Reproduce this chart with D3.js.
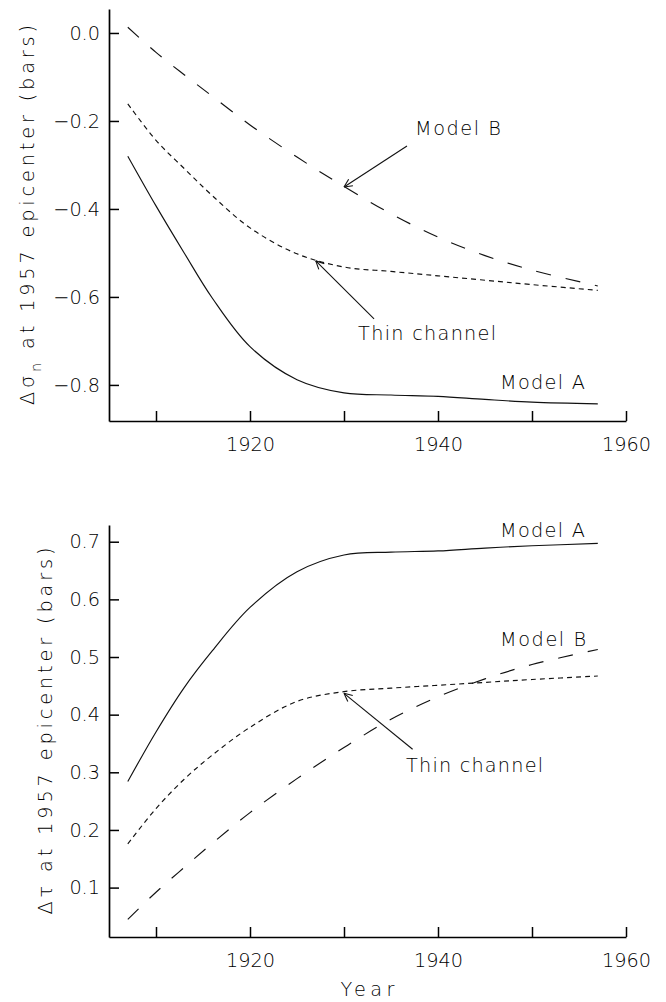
<!DOCTYPE html>
<html>
<head>
<meta charset="utf-8">
<script src="https://cdn.jsdelivr.net/npm/d3@7"></script>
<style>
  body { margin: 0; background: #fff; }
  svg text { font-family: "DejaVu Sans", sans-serif; font-weight: 200; fill: #000; }
</style>
</head>
<body>
<script>
// values
var years = [1907, 1910, 1913, 1916, 1920, 1925, 1930, 1935, 1940, 1945, 1950, 1957];

var sigmaModelA = [-0.280, -0.393, -0.500, -0.603, -0.713, -0.788, -0.818, -0.823, -0.826, -0.833, -0.839, -0.843];
var sigmaThin   = [-0.161, -0.244, -0.308, -0.370, -0.443, -0.502, -0.532, -0.542, -0.552, -0.562, -0.572, -0.585];
var sigmaModelB = [ 0.013, -0.044, -0.095, -0.144, -0.209, -0.282, -0.349, -0.411, -0.464, -0.506, -0.539, -0.575];

var tauModelA = [0.284, 0.370, 0.447, 0.511, 0.586, 0.648, 0.677, 0.682, 0.684, 0.689, 0.693, 0.697];
var tauThin   = [0.176, 0.237, 0.288, 0.330, 0.378, 0.423, 0.440, 0.446, 0.451, 0.456, 0.461, 0.467];
var tauModelB = [0.045, 0.092, 0.135, 0.177, 0.230, 0.289, 0.343, 0.392, 0.431, 0.462, 0.487, 0.513];

var xTicks = [1910, 1920, 1930, 1940, 1950, 1960];
var sigmaTicks = [-0.8, -0.6, -0.4, -0.2, 0.0];
var tauTicks = [0.1, 0.2, 0.3, 0.4, 0.5, 0.6, 0.7];

var width = 666, height = 1002;

var svg = d3.select("body").append("svg")
    .attr("width", width)
    .attr("height", height);

// size the font so that a year label is as wide as in the figure
var probe = svg.append("text").attr("font-size", 20).text("1920");
var fontSize = 20 * 49 / probe.node().getComputedTextLength();
probe.remove();

var x = d3.scaleLinear().domain([1905, 1960]).range([109, 626]);

function arrow(g, from, to) {
    g.append("line")
        .attr("x1", from[0]).attr("y1", from[1])
        .attr("x2", to[0]).attr("y2", to[1])
        .attr("stroke", "#111").attr("stroke-width", 1.1);
    var ang = Math.atan2(from[1] - to[1], from[0] - to[0]);
    var len = 9, spread = 0.45;
    [ang - spread, ang + spread].forEach(function(a) {
        g.append("line")
            .attr("x1", to[0]).attr("y1", to[1])
            .attr("x2", to[0] + len * Math.cos(a))
            .attr("y2", to[1] + len * Math.sin(a))
            .attr("stroke", "#111").attr("stroke-width", 1.1);
    });
}

function drawPanel(cfg) {
    var g = svg.append("g");
    var y = d3.scaleLinear().domain(cfg.yDomain).range([cfg.bottom, cfg.top]);

    // axes
    var xAxis = g.append("g")
        .attr("transform", "translate(0," + cfg.bottom + ")")
        .call(d3.axisBottom(x)
            .tickValues(xTicks)
            .tickSize(-10)
            .tickSizeOuter(0)
            .tickPadding(16)
            .tickFormat(function(d) { return d % 20 === 0 ? d : ""; }));

    var yAxis = g.append("g")
        .attr("transform", "translate(" + x.range()[0] + ",0)")
        .call(d3.axisLeft(y)
            .tickValues(cfg.ticks)
            .tickSize(-10)
            .tickSizeOuter(0)
            .tickPadding(9)
            .tickFormat(d3.format(".1f")));

    [xAxis, yAxis].forEach(function(a) {
        a.attr("font-size", fontSize).attr("font-family", null);
        a.select(".domain").attr("stroke", "#000").attr("stroke-width", 1.7);
        a.selectAll(".tick line").attr("stroke", "#000").attr("stroke-width", 1.5);
    });

    // curves
    var line = d3.line()
        .x(function(d) { return x(d[0]); })
        .y(function(d) { return y(d[1]); })
        .curve(d3.curveCatmullRom.alpha(0.5));

    cfg.series.forEach(function(s) {
        g.append("path")
            .datum(years.map(function(yr, i) { return [yr, s.values[i]]; }))
            .attr("d", line)
            .attr("fill", "none")
            .attr("stroke", "#111")
            .attr("stroke-width", 1.15)
            .attr("stroke-dasharray", s.dash);
    });

    // labels
    cfg.labels.forEach(function(l) {
        g.append("text")
            .attr("x", x(l.at[0]))
            .attr("y", y(l.at[1]))
            .attr("font-size", fontSize)
            .attr("textLength", l.len)
            .attr("lengthAdjust", "spacing")
            .text(l.text);
    });

    cfg.arrows.forEach(function(a) {
        arrow(g, [x(a.from[0]), y(a.from[1])], [x(a.to[0]), y(a.to[1])]);
    });

    // y title
    var t = g.append("text")
        .attr("transform", "translate(" + cfg.titleX + "," + (cfg.top + cfg.bottom) / 2 + ") rotate(-90)")
        .attr("text-anchor", "middle")
        .attr("font-size", fontSize)
        .attr("textLength", cfg.titleLen)
        .attr("lengthAdjust", "spacing");
    t.append("tspan").text(cfg.title[0]);
    if (cfg.title[1]) {
        t.append("tspan").attr("font-size", fontSize * 0.75).attr("dy", 7).text(cfg.title[1]);
        t.append("tspan").attr("dy", -7).text(cfg.title[2]);
    }
}

drawPanel({
    top: 9, bottom: 421,
    yDomain: [-0.882, 0.0545],
    ticks: sigmaTicks,
    series: [
        {values: sigmaModelA, dash: null},
        {values: sigmaThin, dash: "5,4"},
        {values: sigmaModelB, dash: "15,15"}
    ],
    labels: [
        {text: "Model  B", at: [1937.55, -0.232], len: 86},
        {text: "Thin  channel", at: [1931.5, -0.699], len: 138},
        {text: "Model  A", at: [1946.6, -0.809], len: 85}
    ],
    arrows: [
        {from: [1936.7, -0.257], to: [1930.0, -0.350]},
        {from: [1933.2, -0.650], to: [1927.0, -0.518]}
    ],
    titleX: 34,
    titleLen: 380,
    title: ["Δσ", "n", " at 1957 epicenter (bars)"]
});

drawPanel({
    top: 525, bottom: 937,
    yDomain: [0.0143, 0.729],
    ticks: tauTicks,
    series: [
        {values: tauModelA, dash: null},
        {values: tauThin, dash: "5,4"},
        {values: tauModelB, dash: "15,15"}
    ],
    labels: [
        {text: "Model  A", at: [1946.6, 0.708], len: 85},
        {text: "Model  B", at: [1946.6, 0.519], len: 86},
        {text: "Thin  channel", at: [1936.6, 0.300], len: 137}
    ],
    arrows: [
        {from: [1937.3, 0.340], to: [1930.0, 0.437]}
    ],
    titleX: 52,
    titleLen: 367,
    title: ["Δτ at 1957 epicenter (bars)"]
});

svg.append("text")
    .attr("x", (x.range()[0] + x.range()[1]) / 2)
    .attr("y", 996)
    .attr("text-anchor", "middle")
    .attr("font-size", fontSize)
    .attr("textLength", 54)
    .attr("lengthAdjust", "spacing")
    .text("Year");
</script>
</body>
</html>
